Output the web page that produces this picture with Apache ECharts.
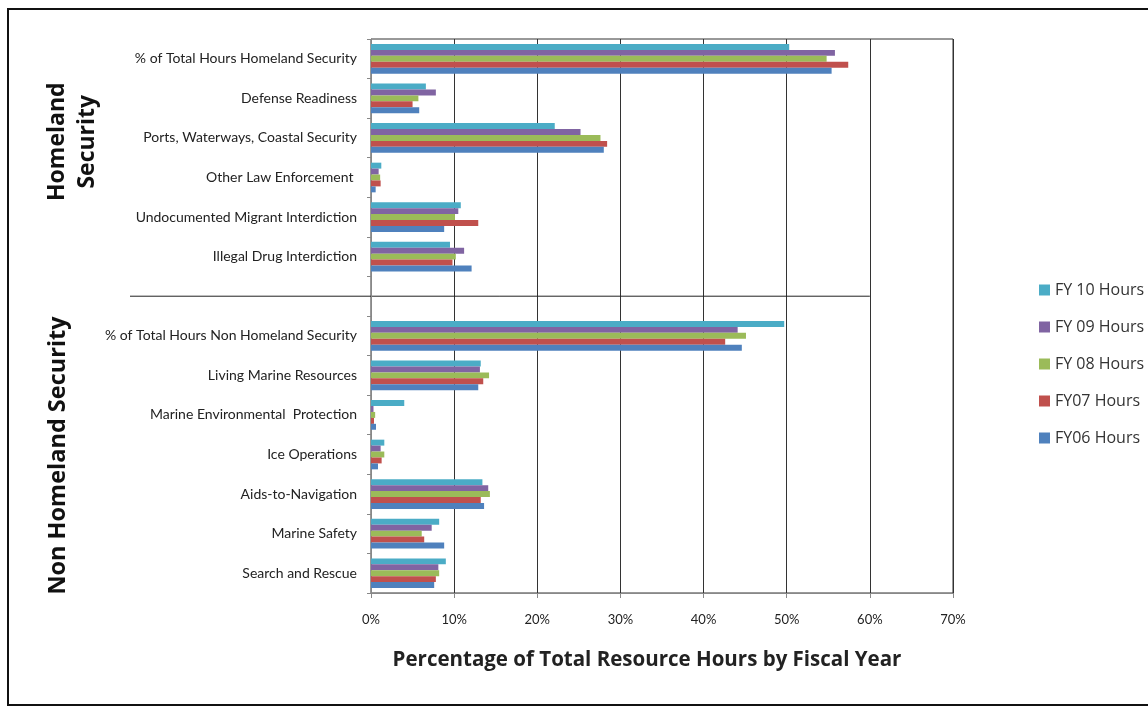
<!DOCTYPE html>
<html>
<head>
<meta charset="utf-8">
<script src="https://cdn.jsdelivr.net/npm/echarts@6/dist/echarts.min.js"></script>
<style>
html,body{margin:0;padding:0;background:#fff;}
#chart{width:1148px;height:713px;}
</style>
</head>
<body>
<div id="chart"></div>
<script>
// Categories bottom-to-top
var categories = [
  'Search and Rescue',
  'Marine Safety',
  'Aids-to-Navigation',
  'Ice Operations',
  'Marine Environmental  Protection',
  'Living Marine Resources',
  '% of Total Hours Non Homeland Security',
  '',
  'Illegal Drug Interdiction',
  'Undocumented Migrant Interdiction',
  'Other Law Enforcement ',
  'Ports, Waterways, Coastal Security',
  'Defense Readiness',
  '% of Total Hours Homeland Security'
];
var xTicks = ['0%','10%','20%','30%','40%','50%','60%','70%'];
var legendOrder = ['FY 10 Hours','FY 09 Hours','FY 08 Hours','FY07 Hours','FY06 Hours'];
// values in percent, same order as categories
var fy06 = [7.6, 8.8, 13.6, 0.84, 0.6, 12.9, 44.6, null, 12.1, 8.8, 0.56, 28.0, 5.8, 55.4];
var fy07 = [7.8, 6.4, 13.2, 1.28, 0.36, 13.5, 42.6, null, 9.8, 12.9, 1.16, 28.4, 5.0, 57.4];
var fy08 = [8.2, 6.1, 14.3, 1.6, 0.5, 14.2, 45.1, null, 10.2, 10.1, 1.1, 27.6, 5.7, 54.8];
var fy09 = [8.1, 7.3, 14.1, 1.16, 0.3, 13.1, 44.1, null, 11.2, 10.5, 0.92, 25.2, 7.8, 55.8];
var fy10 = [9.0, 8.2, 13.4, 1.6, 4.0, 13.2, 49.7, null, 9.5, 10.8, 1.24, 22.1, 6.6, 50.3];
var colors = {fy06:'#4F81BD', fy07:'#C0504D', fy08:'#9BBB59', fy09:'#8064A2', fy10:'#4BACC6'};

var FONT = 'Lato, "Open Sans", sans-serif';
var FONT2 = '"Open Sans", Lato, sans-serif';
var chart = echarts.init(document.getElementById('chart'));
function mk(name, data, color){
  return {name:name, type:'bar', data:data, itemStyle:{color:color}, barGap:'0%', barCategoryGap:'25%', animation:false};
}
var option = {
  animation:false,
  backgroundColor:'#fff',
  grid:{left:371, right:195, top:39, bottom:120, show:true, borderColor:'#333', borderWidth:1},
  legend:{
    orient:'vertical', left:1039, top:281, padding:0, itemWidth:11, itemHeight:11, itemGap:19,
    data:legendOrder.map(function(n){return {name:n};}),
    textStyle:{fontFamily:FONT2, fontSize:16, color:'#333', lineHeight:18}, icon:'rect'
  },
  xAxis:{
    type:'value', min:0, max:70, interval:10,
    axisLine:{show:true, lineStyle:{color:'#888'}},
    axisTick:{show:true, length:5, lineStyle:{color:'#888'}},
    axisLabel:{formatter:function(v){return xTicks[Math.round(v/10)];}, fontFamily:FONT, fontSize:13, color:'#222', margin:20},
    splitLine:{show:true, lineStyle:{color:'#333', width:1}},
    name:'Percentage of Total Resource Hours by Fiscal Year', nameLocation:'middle', nameGap:57,
    nameTextStyle:{fontFamily:FONT2, fontSize:20.5, fontWeight:'bold', color:'#222', padding:[0,30,0,0]}
  },
  yAxis:{
    type:'category', data:categories,
    axisLine:{show:true, lineStyle:{color:'#888'}},
    axisTick:{show:true, length:4, lineStyle:{color:'#888'}},
    axisLabel:{fontFamily:FONT, fontSize:14, color:'#222', margin:14},
    splitLine:{show:false}
  },
  series:[
    mk('FY 10 Hours', fy10, colors.fy10),
    mk('FY 09 Hours', fy09, colors.fy09),
    mk('FY 08 Hours', fy08, colors.fy08),
    mk('FY07 Hours', fy07, colors.fy07),
    mk('FY06 Hours', fy06, colors.fy06)
  ]
};
chart.setOption(option);
// decorations: separator line at the blank category, group labels, outer frame
var sepY = chart.convertToPixel({yAxisIndex:0}, '');
var x60 = chart.convertToPixel({xAxisIndex:0}, 60);
var hsTop = chart.convertToPixel({yAxisIndex:0}, '% of Total Hours Homeland Security');
var hsBot = chart.convertToPixel({yAxisIndex:0}, 'Illegal Drug Interdiction');
var nhTop = chart.convertToPixel({yAxisIndex:0}, '% of Total Hours Non Homeland Security');
var nhBot = chart.convertToPixel({yAxisIndex:0}, 'Search and Rescue');
chart.setOption({
  graphic:[
    {type:'rect', shape:{x:8, y:9, width:1170, height:696}, style:{fill:'none', stroke:'#111', lineWidth:2}, silent:true},
    {type:'line', shape:{x1:130, y1:sepY, x2:x60, y2:sepY}, style:{stroke:'#222', lineWidth:1}, silent:true},
    {type:'text', x:72, y:(hsTop+hsBot)/2 - 16, rotation:Math.PI/2,
      style:{text:'Homeland\nSecurity', fontFamily:FONT2, fontSize:23, fontWeight:'bold', fill:'#111', align:'center', verticalAlign:'middle', lineHeight:30}},
    {type:'text', x:58, y:(nhTop+nhBot)/2 + 1, rotation:Math.PI/2,
      style:{text:'Non Homeland Security', fontFamily:FONT2, fontSize:23.5, fontWeight:'bold', fill:'#111', align:'center', verticalAlign:'middle'}}
  ]
});
</script>
</body>
</html>
